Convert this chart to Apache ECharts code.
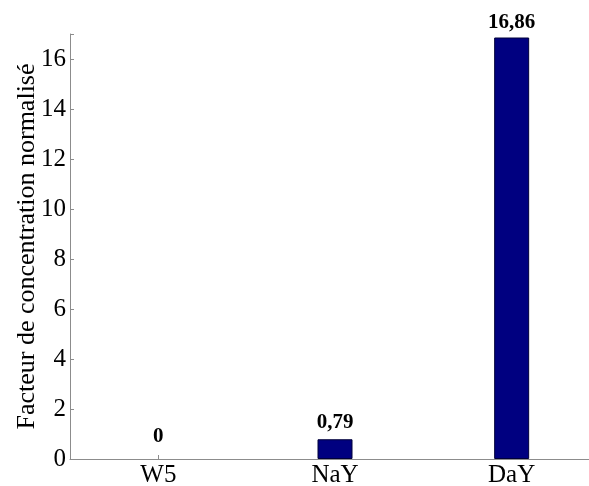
<!DOCTYPE html>
<html><head><meta charset="utf-8">
<script src="https://cdn.jsdelivr.net/npm/echarts@6/dist/echarts.min.js"></script>
<style>html,body{margin:0;padding:0;background:#fff;overflow:hidden}#c{width:600px;height:486px}</style>
</head><body><div id="c"></div>
<script>
const categories = ['W5', 'NaY', 'DaY'];
const values = [0, 0.79, 16.86];
const yTicks = [0, 2, 4, 6, 8, 10, 12, 14, 16];
const yName = 'Facteur de concentration normalisé';

const chart = echarts.init(document.getElementById('c'));
const font = '"Liberation Serif","Times New Roman",serif';
const labelGaps = [12, 6, 4];
chart.setOption({
  animation: false,
  grid: {left: 70, top: 34, bottom: 27, right: 0, containLabel: false, outerBoundsMode: 'none'},
  xAxis: {
    type: 'category', data: categories,
    axisLine: {lineStyle: {color: '#8c8c8c', width: 1}},
    axisTick: {show: true, inside: true, alignWithLabel: true, length: 4, lineStyle: {color: '#8c8c8c'}},
    axisLabel: {fontFamily: font, fontSize: 25, color: '#000', margin: 4}
  },
  yAxis: {
    type: 'value', min: 0, max: 17, interval: 2,
    name: yName, nameLocation: 'middle', nameGap: 30, nameMoveOverlap: false,
    nameTextStyle: {fontFamily: font, fontSize: 26, color: '#000'},
    axisLine: {show: true, lineStyle: {color: '#8c8c8c', width: 1}},
    axisTick: {show: true, inside: true, length: 4, lineStyle: {color: '#8c8c8c'}},
    splitLine: {show: false},
    axisLabel: {fontFamily: font, fontSize: 25, color: '#000', margin: 4,
      formatter: v => yTicks.includes(v) ? String(v) : ''}
  },
  series: [{
    type: 'bar', barWidth: 35,
    data: values.map((v, i) => ({
      value: v,
      itemStyle: v === 0 ? {borderWidth: 0} : {},
      label: {distance: labelGaps[i]}
    })),
    itemStyle: {color: '#000080', borderColor: '#00003a', borderWidth: 1},
    label: {show: true, position: 'top', fontFamily: font, fontSize: 21, fontWeight: 'bold', color: '#000',
      formatter: p => String(p.value).replace('.', ',')}
  }]
});
</script></body></html>
